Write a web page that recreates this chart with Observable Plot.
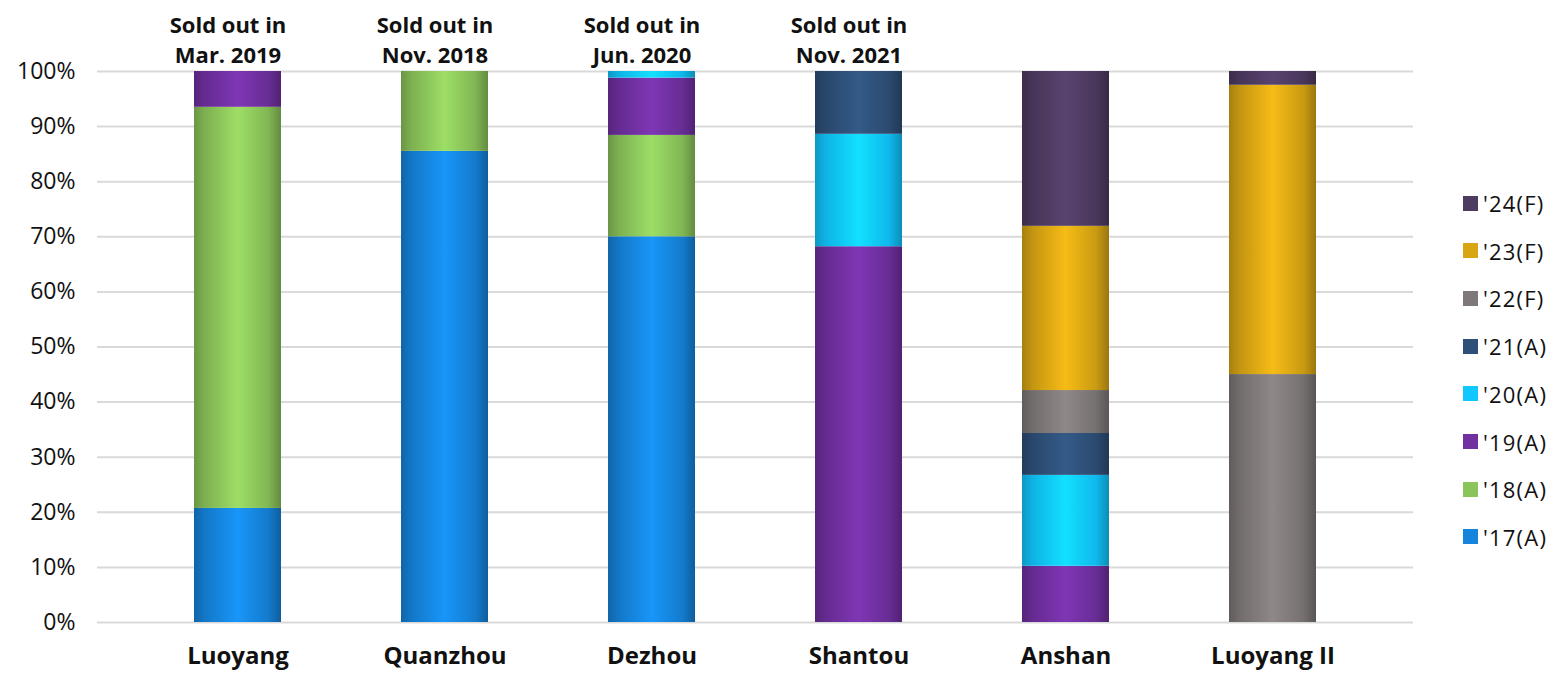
<!DOCTYPE html>
<html>
<head>
<meta charset="utf-8">
<script src="https://cdn.jsdelivr.net/npm/d3@7"></script>
<script src="https://cdn.jsdelivr.net/npm/@observablehq/plot@0.6"></script>
<style>
  html, body { margin: 0; padding: 0; background: #fff; }
  #wrap { position: relative; width: 1566px; height: 674px; font-family: "Open Sans", sans-serif; }
  #legend { position: absolute; left: 1463px; top: 0; }
  .li { position: absolute; left: 0; display: flex; align-items: center; white-space: nowrap; font-size: 22px; letter-spacing: 1.2px; color: #111; }
  .sw { width: 15px; height: 15px; margin-right: 5px; }
</style>
</head>
<body>
<div id="wrap"><div id="legend"></div></div>
<script>
// ---- data ----
const cities = ["Luoyang", "Quanzhou", "Dezhou", "Shantou", "Anshan", "Luoyang II"];
const seriesNames = ["'17(A)", "'18(A)", "'19(A)", "'20(A)", "'21(A)", "'22(F)", "'23(F)", "'24(F)"];
const seriesColors = ["#1584dc", "#8bc45a", "#7030a0", "#10c7ff", "#2e4f78", "#7f7878", "#d9a613", "#4e3b62"];
// share (%) of each series per city, in order of seriesNames
const luoyang   = [20.7, 72.8, 6.5, 0, 0, 0, 0, 0];
const quanzhou  = [85.5, 14.5, 0, 0, 0, 0, 0, 0];
const dezhou    = [70.0, 18.4, 10.4, 1.2, 0, 0, 0, 0];
const shantou   = [0, 0, 68.2, 20.4, 11.4, 0, 0, 0];
const anshan    = [0, 0, 10.2, 16.5, 7.6, 7.8, 29.8, 28.1];
const luoyang2  = [0, 0, 0, 0, 0, 45.0, 52.5, 2.5];
const soldOut   = ["Sold out in\nMar. 2019", "Sold out in\nNov. 2018", "Sold out in\nJun. 2020", "Sold out in\nNov. 2021", "", ""];
const yTicks    = [0, 10, 20, 30, 40, 50, 60, 70, 80, 90, 100];

const cityValues = [luoyang, quanzhou, dezhou, shantou, anshan, luoyang2];
const rows = [];
cities.forEach((c, i) => seriesNames.forEach((s, j) => {
  if (cityValues[i][j] > 0) rows.push({city: c, series: s, idx: j, value: cityValues[i][j]});
}));
const annotations = cities.map((c, i) => ({city: c, text: soldOut[i]})).filter(d => d.text);

const W = 1566, H = 674;
const chart = Plot.plot({
  width: W, height: H,
  marginLeft: 97, marginRight: 153, marginTop: 71, marginBottom: 52,
  style: {fontFamily: "'Open Sans', sans-serif", background: "#fff", overflow: "visible"},
  x: {domain: cities, range: [193, 1317], paddingInner: 0.578, paddingOuter: 0, axis: null},
  y: {domain: [0, 100], axis: null},
  color: {type: "identity"},
  marks: [
    Plot.ruleY(yTicks, {stroke: "#d9d9d9", strokeWidth: 2}),
    Plot.axisY({ticks: yTicks, tickSize: 0, tickPadding: 22, fontSize: 23, label: null, tickFormat: d => d + "%", fill: "#111"}),
    Plot.barY(rows, Plot.stackY({x: "city", y: "value", z: "series", order: null, fill: d => `url(#grad${d.idx})`})),
    Plot.axisX({tickSize: 0, tickPadding: 24, fontSize: 24, fontWeight: "bold", label: null, fill: "#111"}),
    Plot.text(annotations, {x: "city", y: () => 100, text: "text", fontSize: 22, fontWeight: "bold", fill: "#111", lineAnchor: "bottom", lineHeight: 1.36, dy: -9, dx: -10})
  ]
});

// gradients giving the cylinder shading
const svg = d3.select(chart);
const defs = svg.insert("defs", ":first-child");
seriesColors.forEach((c, i) => {
  const g = defs.append("linearGradient").attr("id", `grad${i}`).attr("x1", 0).attr("x2", 1).attr("y1", 0).attr("y2", 0);
  const base = d3.color(c);
  const stops = [
    [0, base.darker(0.75)],
    [0.12, base.darker(0.3)],
    [0.5, base.brighter(0.35)],
    [0.85, base.darker(0.2)],
    [1, base.darker(0.95)]
  ];
  stops.forEach(([o, col]) => g.append("stop").attr("offset", o).attr("stop-color", col.formatHex()));
});

document.getElementById("wrap").prepend(chart);
chart.style.position = "absolute"; chart.style.left = "0"; chart.style.top = "0";

// legend (top to bottom: latest first)
const legend = document.getElementById("legend");
const order = seriesNames.map((s, i) => i).reverse();
order.forEach((i, k) => {
  const div = document.createElement("div");
  div.className = "li";
  div.style.top = (203 + k * 47.7 - 15) + "px";
  div.style.height = "30px";
  div.innerHTML = `<span class="sw" style="background:${seriesColors[i]}"></span><span>${seriesNames[i]}</span>`;
  legend.appendChild(div);
});
</script>
</body>
</html>
